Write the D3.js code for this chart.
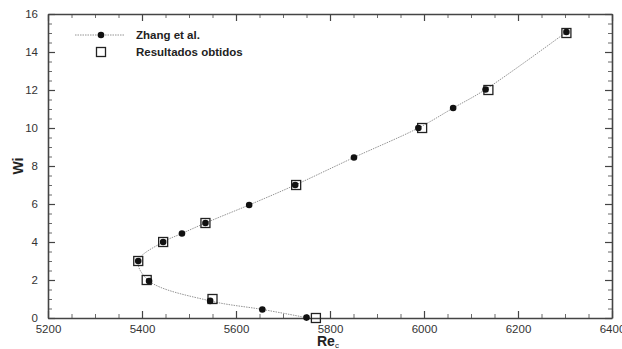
<!DOCTYPE html>
<html>
<head>
<meta charset="utf-8">
<script src="https://cdn.jsdelivr.net/npm/d3@7"></script>
<style>
  body { margin: 0; background: #fff; }
  text { font-family: "Liberation Sans", Arial, sans-serif; }
</style>
</head>
<body>
<svg id="chart" width="622" height="349"></svg>
<script>
// Zhang et al. reference curve (Re_c, Wi), in order along the curve
const zhangRe = [5750, 5656, 5545, 5415, 5392, 5445, 5485, 5535, 5628, 5726, 5851, 5988, 6062, 6131, 6303];
const zhangWi = [0.02, 0.45, 0.9, 1.95, 3, 4, 4.45, 5, 5.95, 7, 8.45, 10, 11.05, 12.03, 15.05];

// Results obtained
const ownRe = [5770, 5550, 5410, 5392, 5445, 5535, 5728, 5996, 6137, 6303];
const ownWi = [0, 1, 2, 3, 4, 5, 7, 10, 12, 15];

const xTicks = [5200, 5400, 5600, 5800, 6000, 6200, 6400];
const yTicks = [0, 2, 4, 6, 8, 10, 12, 14, 16];

const legendLabels = ['Zhang et al.', 'Resultados obtidos'];

const margin = { top: 14, right: 10, bottom: 31, left: 48 };
const width = 622, height = 349;

const svg = d3.select('#chart');

const x = d3.scaleLinear()
  .domain([5200, 6400])
  .range([margin.left, width - margin.right]);

const y = d3.scaleLinear()
  .domain([0, 16])
  .range([height - margin.bottom, margin.top]);

const axisColor = '#444';

// minor ticks every 50 / 0.5
const xMinor = d3.range(5200, 6401, 50).filter(d => !xTicks.includes(d));
const yMinor = d3.range(0, 16.01, 0.5).filter(d => !yTicks.includes(d));

// Axes on all four sides, ticks pointing inward
const addAxis = (axisFn, scale, transform, major, minor, showLabels) => {
  const gMinor = svg.append('g')
    .attr('transform', transform)
    .call(axisFn(scale).tickValues(minor).tickSize(-4).tickFormat(''));
  gMinor.select('.domain').remove();
  gMinor.selectAll('line').attr('stroke', axisColor).attr('stroke-width', 0.8);

  const g = svg.append('g')
    .attr('transform', transform)
    .call(axisFn(scale).tickValues(major).tickSize(-7).tickSizeOuter(0)
      .tickPadding(showLabels ? 10 : 0)
      .tickFormat(showLabels ? d3.format('d') : ''));
  g.select('.domain').attr('stroke', axisColor).attr('stroke-width', 1.6);
  g.selectAll('line').attr('stroke', axisColor).attr('stroke-width', 1.2);
  g.selectAll('text')
    .attr('fill', '#333')
    .style('font-size', '11.5px')
    .style('font-family', '"Liberation Sans", Arial, sans-serif');
  return g;
};

const xb = addAxis(d3.axisBottom, x, `translate(0,${height - margin.bottom})`, xTicks, xMinor, true);
xb.selectAll('text').attr('dy', '0.45em');
addAxis(d3.axisTop, x, `translate(0,${margin.top})`, xTicks, xMinor, false);
addAxis(d3.axisLeft, y, `translate(${margin.left},0)`, yTicks, yMinor, true);
addAxis(d3.axisRight, y, `translate(${width - margin.right},0)`, yTicks, yMinor, false);

// Axis titles
svg.append('text')
  .attr('transform', `translate(23,${y(8)}) rotate(-90)`)
  .attr('text-anchor', 'middle')
  .attr('font-weight', 'bold')
  .attr('font-size', 14)
  .attr('fill', '#222')
  .text('Wi');

const xt = svg.append('text')
  .attr('x', 317)
  .attr('y', 346)
  .attr('font-weight', 'bold')
  .attr('font-size', 14)
  .attr('fill', '#222')
  .text('Re');
xt.append('tspan')
  .attr('dy', 2)
  .attr('font-size', 8)
  .attr('font-weight', 'normal')
  .text('c');

// Zhang line + markers
const zhang = zhangRe.map((d, i) => ({ re: d, wi: zhangWi[i] }));
const own = ownRe.map((d, i) => ({ re: d, wi: ownWi[i] }));

svg.append('path')
  .datum(zhang)
  .attr('fill', 'none')
  .attr('stroke', '#888')
  .attr('stroke-width', 0.9)
  .attr('stroke-dasharray', '1.5,1')
  .attr('d', d3.line().x(d => x(d.re)).y(d => y(d.wi)).curve(d3.curveCatmullRom));

const sq = 9;
svg.append('g')
  .selectAll('rect')
  .data(own)
  .join('rect')
  .attr('x', d => x(d.re) - sq / 2)
  .attr('y', d => y(d.wi) - sq / 2)
  .attr('width', sq)
  .attr('height', sq)
  .attr('fill', 'none')
  .attr('stroke', '#222')
  .attr('stroke-width', 1.3);

svg.append('g')
  .selectAll('circle')
  .data(zhang)
  .join('circle')
  .attr('cx', d => x(d.re))
  .attr('cy', d => y(d.wi))
  .attr('r', 3.3)
  .attr('fill', '#111');

// Legend
const leg = svg.append('g');
leg.append('line')
  .attr('x1', 75).attr('x2', 124)
  .attr('y1', 35).attr('y2', 35)
  .attr('stroke', '#888')
  .attr('stroke-width', 0.9)
  .attr('stroke-dasharray', '1.5,1');
leg.append('circle')
  .attr('cx', 101).attr('cy', 35).attr('r', 3.3).attr('fill', '#111');
leg.append('rect')
  .attr('x', 101 - sq / 2).attr('y', 52 - sq / 2)
  .attr('width', sq).attr('height', sq)
  .attr('fill', 'none').attr('stroke', '#222').attr('stroke-width', 1.3);

leg.selectAll('text.leg')
  .data(legendLabels)
  .join('text')
  .attr('class', 'leg')
  .attr('x', 136)
  .attr('y', (d, i) => 35 + i * 17)
  .attr('dy', '0.35em')
  .attr('font-size', 11.5)
  .attr('font-weight', 'bold')
  .attr('fill', '#222')
  .text(d => d);
</script>
</body>
</html>
